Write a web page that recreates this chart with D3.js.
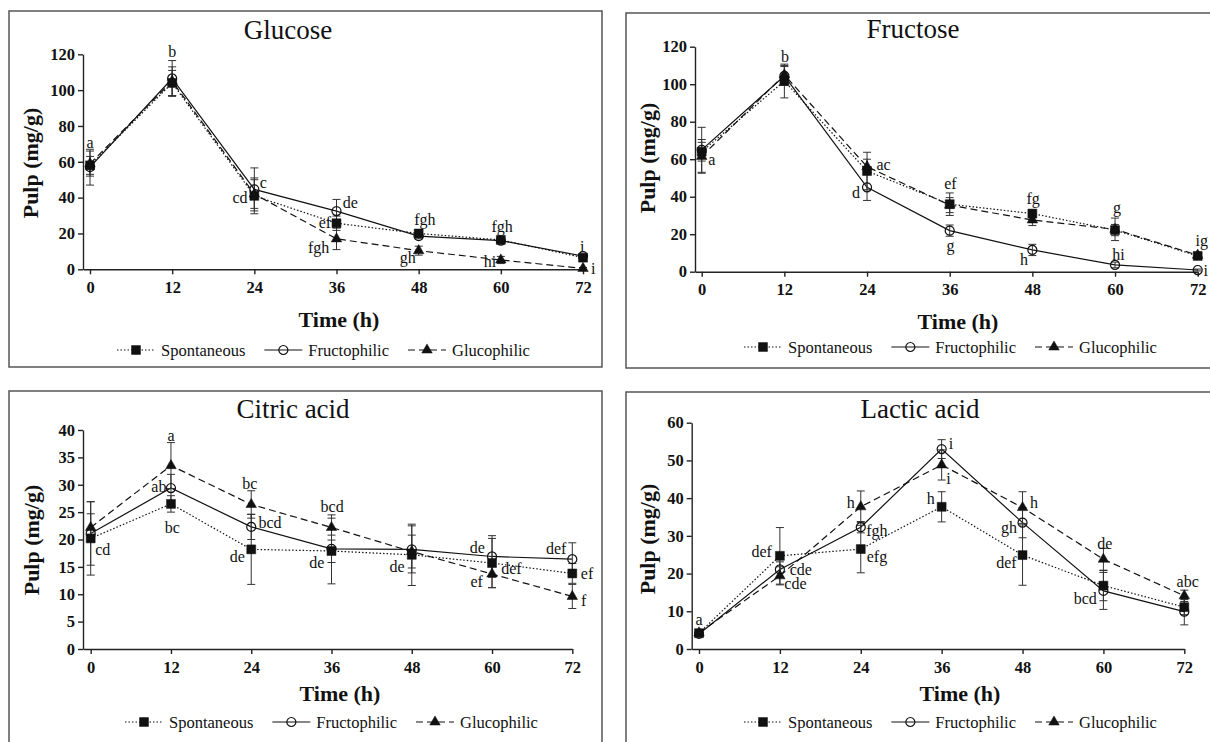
<!DOCTYPE html>
<html lang="en">
<head>
<meta charset="utf-8"/>
<title>Pulp sugars and organic acids during fermentation</title>
<script src="https://d3js.org/d3.v7.min.js"></script>
<style>
body { margin: 0; background: #fff; }
svg text { font-family: "Liberation Serif", "Times New Roman", serif; fill: #111; }
.frame { fill: none; stroke: #555; stroke-width: 1.5; }
.axis path, .axis line { stroke: #222; stroke-width: 1.4; }
.axis text { font-size: 16.5px; font-weight: bold; fill: #111; font-family: "Liberation Serif", serif; }
.title { font-size: 27px; }
.axisTitle { font-size: 22px; font-weight: bold; }
.letter { font-size: 16px; }
.legend text { font-size: 16.5px; }
.line { fill: none; stroke: #111; stroke-width: 1.2; }
.s0 { stroke-dasharray: 1.5, 2; }
.s2 { stroke-dasharray: 7, 4; }
.err { stroke: #333; stroke-width: 1; }
</style>
</head>
<body>
<div id="chart"></div>
<script>
// sampling times (h) and series names
var times = [0, 12, 24, 36, 48, 60, 72];
var seriesNames = ["Spontaneous", "Fructophilic", "Glucophilic"];

// means, order: spontaneous, fructophilic, glucophilic
var glucoseMean = [
  [58, 104, 41, 25.7, 20, 16.4, 6.5],
  [57, 106.5, 44.6, 32.5, 18.5, 16, 7.4],
  [59, 105, 42, 17, 10.4, 5.2, 0.5]];
var glucoseErr = [
  [5, 7, 10, 4, 2, 1.5, 1.5],
  [10, 10, 12, 6.5, 1.5, 1.5, 1],
  [7, 8, 8, 6, 2.5, 2, 0.5]];

var fructoseMean = [
  [64, 101.7, 53.7, 36, 31, 22.2, 8.4],
  [65, 104.4, 45, 21.9, 11.6, 3.6, 0.9],
  [61.5, 105, 56, 35.5, 27.6, 22.6, 8.8]];
var fructoseErr = [
  [5, 9, 10, 6, 2, 3, 1.5],
  [12, 5, 7, 3, 3, 1.5, 0.5],
  [9, 5, 4, 4, 3, 6, 1.5]];

var citricMean = [
  [20.2, 26.5, 18.2, 17.9, 17.2, 15.7, 13.8],
  [21.1, 29.4, 22.3, 18.3, 18.2, 16.9, 16.4],
  [22.2, 33.5, 26.4, 22.2, 17.8, 13.7, 9.6]];
var citricErr = [
  [6.7, 1.5, 6.4, 6, 5.6, 4.5, 1.8],
  [5.8, 2.5, 2.3, 2.5, 4.3, 3.8, 3],
  [2.5, 4.2, 2.5, 2.3, 3, 2.5, 2.2]];

var lacticMean = [
  [4.2, 24.7, 26.5, 37.7, 24.9, 16.8, 11.1],
  [4.0, 21.1, 32.3, 53, 33.5, 15.4, 9.9],
  [4.3, 19.4, 37.7, 48.8, 37.5, 23.8, 14.1]];
var lacticErr = [
  [0.6, 7.5, 6.3, 4, 8, 4, 2],
  [0.5, 2, 1.5, 2.5, 4, 4.9, 3.5],
  [0.5, 2.4, 4.2, 4, 4.2, 2.9, 1.5]];

// significance letters: [time, value, text, anchor]
var glucoseLetters = [
  [0, 70.5, "a"], [12, 121.3, "b"], [25.3, 48.2, "c"], [21.9, 39.6, "cd"],
  [38, 36.8, "de"], [34.3, 26, "ef"], [33.4, 11.7, "fgh"],
  [48.9, 27.5, "fgh"], [46.4, 6.1, "gh"], [60.2, 23.8, "fgh"], [58.4, 4.2, "hi"],
  [71.9, 12.6, "i"], [73.5, 0.5, "i"]];
var fructoseLetters = [
  [1.45, 59.6, "a"], [12.1, 114.7, "b"], [26.4, 56.9, "ac"], [22.4, 42.3, "d"],
  [36.1, 47.1, "ef"], [36.1, 13.9, "g"], [48.1, 39.1, "fg"], [46.8, 6.2, "h"],
  [60.3, 34.3, "g"], [60.5, 8.9, "hi"], [73.5, 16.5, "ig", "end"], [73.5, 0.5, "i", "end"]];
var citricLetters = [
  [1.8, 18.1, "cd"], [12, 39, "a"], [10.2, 29.6, "ab"], [12.2, 22.2, "bc"],
  [23.8, 30.1, "bc"], [26.8, 23.1, "bcd"], [21.9, 16.9, "de"],
  [36.1, 26, "bcd"], [33.8, 15.7, "de"], [45.8, 15, "de"],
  [57.8, 18.4, "de"], [62.9, 14.7, "def"], [57.7, 12.2, "ef"],
  [69.6, 18.3, "def"], [74.2, 13.8, "ef"], [73.7, 8.8, "f"]];
var lacticLetters = [
  [0, 7.7, "a"], [9.3, 25.8, "def"], [15.1, 21.1, "cde"], [14.3, 17.2, "cde"],
  [22.5, 38.8, "h"], [26.4, 31.3, "fgh"], [26.4, 24.3, "efg"],
  [37.4, 54.3, "i"], [37, 45.1, "i"], [34.4, 39.7, "h"],
  [49.7, 38.8, "h"], [46, 32.2, "gh"], [45.6, 22.9, "def"],
  [60.2, 27.8, "de"], [57.3, 13.3, "bcd"], [72.5, 17.8, "abc"]];

// layout of each panel (pixel positions)
var panels = [
  {title: "Glucose", mean: glucoseMean, err: glucoseErr, letters: glucoseLetters, yMax: 120, yStep: 20,
   frame: [9, 11, 593, 356], axisX: 83, x0: 90, x72: 583, yBottom: 269.3, yTop: 54.3,
   titleX: 288, titleY: 39, timeX: 339, timeY: 319, legendX: 117, legendY: 350, ylabX: 30, ylabY: 163},
  {title: "Fructose", mean: fructoseMean, err: fructoseErr, letters: fructoseLetters, yMax: 120, yStep: 20,
   frame: [626, 13, 700, 355], axisX: 695, x0: 701.7, x72: 1197.7, yBottom: 271.7, yTop: 46.7,
   titleX: 913, titleY: 38, timeX: 958, timeY: 321, legendX: 744, legendY: 347, ylabX: 647, ylabY: 158},
  {title: "Citric acid", mean: citricMean, err: citricErr, letters: citricLetters, yMax: 40, yStep: 5,
   frame: [9, 391, 593, 400], axisX: 83, x0: 90.7, x72: 572.3, yBottom: 649, yTop: 430,
   titleX: 293, titleY: 418, timeX: 340, timeY: 693, legendX: 125, legendY: 722, ylabX: 31, ylabY: 540},
  {title: "Lactic acid", mean: lacticMean, err: lacticErr, letters: lacticLetters, yMax: 60, yStep: 10,
   frame: [626, 392, 700, 400], axisX: 691.7, x0: 699, x72: 1184.3, yBottom: 649, yTop: 422.7,
   titleX: 920, titleY: 418, timeX: 960, timeY: 693, legendX: 744, legendY: 722, ylabX: 647, ylabY: 539}
];

var svg = d3.select("#chart")
            .append("svg")
            .attr("width", 1210)
            .attr("height", 742);

var symbols = [
  d3.symbol().type(d3.symbolSquare).size(80),
  d3.symbol().type(d3.symbolCircle).size(64),
  d3.symbol().type(d3.symbolTriangle).size(48)];

function drawMarker(g, i, x, y) {
  g.append("path")
   .attr("d", symbols[i]())
   .attr("transform", "translate(" + x + "," + y + ")")
   .attr("fill", i == 1 ? "none" : "#111")
   .attr("stroke", "#111")
   .attr("stroke-width", i == 1 ? 1.2 : 0.5);
}

panels.forEach(function(p) {
  var g = svg.append("g");

  g.append("rect")
   .attr("class", "frame")
   .attr("x", p.frame[0]).attr("y", p.frame[1])
   .attr("width", p.frame[2]).attr("height", p.frame[3]);

  // x scale starts at the y axis, slightly left of t = 0
  var ppu = (p.x72 - p.x0) / 72;
  var xScale = d3.scaleLinear()
                 .domain([-(p.x0 - p.axisX) / ppu, 72])
                 .range([p.axisX, p.x72]);
  var yScale = d3.scaleLinear()
                 .domain([0, p.yMax])
                 .range([p.yBottom, p.yTop]);

  var xAxis = d3.axisBottom(xScale).tickValues(times).tickSize(5).tickSizeOuter(0).tickPadding(7);
  g.append("g")
   .attr("class", "axis")
   .attr("transform", "translate(0," + p.yBottom + ")")
   .call(xAxis);

  var yAxis = d3.axisLeft(yScale).tickValues(d3.range(0, p.yMax + 0.1, p.yStep)).tickSize(5).tickSizeOuter(0).tickPadding(3);
  g.append("g")
   .attr("class", "axis")
   .attr("transform", "translate(" + p.axisX + ",0)")
   .call(yAxis);

  // series lines
  var line = d3.line()
               .x(function(d, i) { return xScale(times[i]); })
               .y(function(d) { return yScale(d); });
  p.mean.forEach(function(vals, s) {
    g.append("path")
     .datum(vals)
     .attr("class", "line s" + s)
     .attr("d", line);
  });

  // error bars
  p.mean.forEach(function(vals, s) {
    vals.forEach(function(v, i) {
      var x = xScale(times[i]);
      var e = p.err[s][i];
      var yHi = yScale(v + e), yLo = yScale(Math.max(0, v - e));
      g.append("line").attr("class", "err").attr("x1", x).attr("x2", x).attr("y1", yHi).attr("y2", yLo);
      g.append("line").attr("class", "err").attr("x1", x - 4).attr("x2", x + 4).attr("y1", yHi).attr("y2", yHi);
      g.append("line").attr("class", "err").attr("x1", x - 4).attr("x2", x + 4).attr("y1", yLo).attr("y2", yLo);
    });
  });

  // markers
  p.mean.forEach(function(vals, s) {
    vals.forEach(function(v, i) {
      drawMarker(g, s, xScale(times[i]), yScale(v));
    });
  });

  // letters
  g.selectAll(".letter")
   .data(p.letters)
   .enter()
   .append("text")
   .attr("class", "letter")
   .attr("x", function(d) { return xScale(d[0]); })
   .attr("y", function(d) { return yScale(d[1]); })
   .attr("dy", "0.32em")
   .attr("text-anchor", function(d) { return d[3] || "middle"; })
   .text(function(d) { return d[2]; });

  // titles
  g.append("text")
   .attr("class", "title")
   .attr("x", p.titleX).attr("y", p.titleY)
   .attr("text-anchor", "middle")
   .text(p.title);

  g.append("text")
   .attr("class", "axisTitle")
   .attr("x", p.timeX).attr("y", p.timeY)
   .attr("dy", "0.35em")
   .attr("text-anchor", "middle")
   .text("Time (h)");

  g.append("text")
   .attr("class", "axisTitle")
   .attr("transform", "translate(" + p.ylabX + "," + p.ylabY + ") rotate(-90)")
   .attr("dy", "0.35em")
   .attr("text-anchor", "middle")
   .text("Pulp (mg/g)");

  // legend
  var lg = g.append("g").attr("class", "legend");
  var cx = p.legendX;
  seriesNames.forEach(function(name, s) {
    lg.append("line")
      .attr("class", "line s" + s)
      .attr("x1", cx).attr("x2", cx + 38)
      .attr("y1", p.legendY).attr("y2", p.legendY);
    drawMarker(lg, s, cx + 19, p.legendY);
    var t = lg.append("text")
              .attr("x", cx + 44).attr("y", p.legendY)
              .attr("dy", "0.35em")
              .text(name);
    cx += 44 + t.node().getComputedTextLength() + 19;
  });
});
</script>
</body>
</html>
